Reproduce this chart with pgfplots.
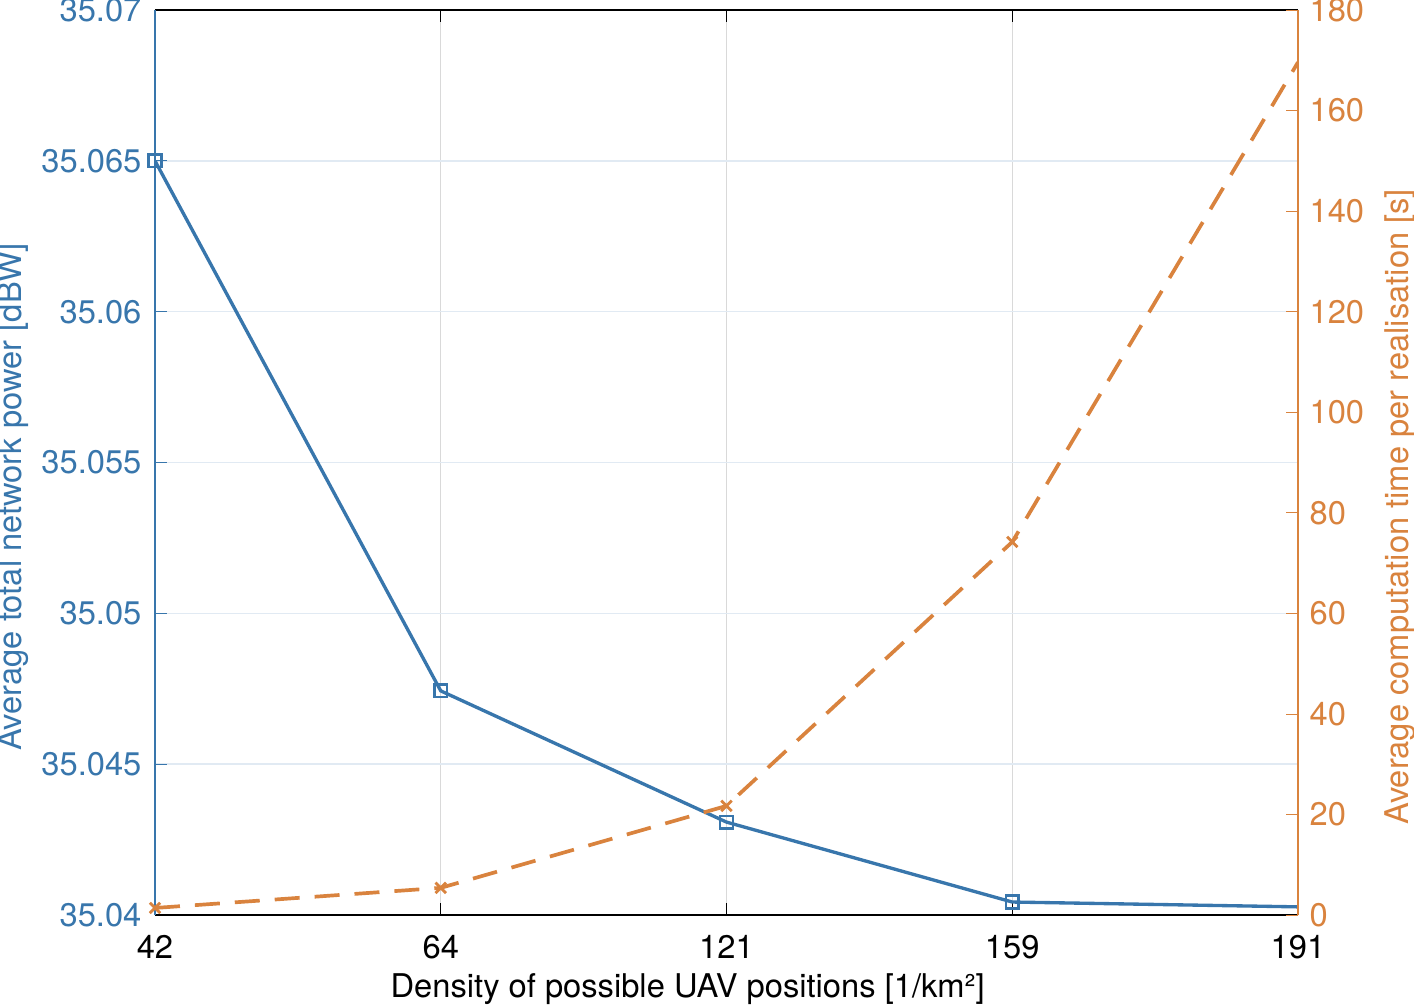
\documentclass[border=0pt]{standalone}
\usepackage{fontspec}
\setmainfont{TeX Gyre Heros}
\usepackage{pgfplots}
\pgfplotsset{compat=1.18}
\definecolor{cblue}{RGB}{56,118,172}
\definecolor{corange}{RGB}{217,131,62}
\begin{document}
\fontsize{9.3pt}{11pt}\selectfont
\begin{tikzpicture}
\begin{axis}[
  scale only axis, width=114.3mm, height=90.5mm,
  xmin=0, xmax=4, ymin=35.04, ymax=35.07,
  xtick={0,1,2,3,4}, xticklabels={42,64,121,159,191},
  ytick={35.04,35.045,35.05,35.055,35.06,35.065,35.07},
  scaled y ticks=false,
  yticklabel style={/pgf/number format/fixed, /pgf/number format/precision=3, /pgf/number format/assume math mode=true, text=cblue, xshift=-0.2mm},
  xticklabel style={/pgf/number format/assume math mode=true, yshift=-0.9mm},
  axis y line*=left,
  y axis line style={cblue, line width=0.4pt},
  x axis line style={black, line width=0.4pt},
  tick align=inside,
  major tick length=1.2mm,
  ytick style={cblue},
  xtick style={black},
  xmajorgrids, ymajorgrids,
  x grid style={black!15, line width=0.4pt},
  y grid style={cblue!15, line width=0.4pt},
  xlabel={Density of possible UAV positions [1/km²]},
  xlabel style={at={(axis description cs:0.466,-0.0906)}, anchor=base, inner sep=0pt},
  ylabel={Average total network power [dBW]},
  ylabel style={at={(axis description cs:-0.1164,0.462)}, anchor=base, rotate=0, inner sep=0pt, text=cblue},
]
\coordinate (bl) at (rel axis cs:0,0);
\coordinate (tr) at (rel axis cs:1,1);
\addplot[cblue, line width=0.95pt, mark=square, mark size=1.8pt, mark indices={1,2,3,4}, mark options={solid, line width=0.7pt}]
  coordinates {(0,35.065) (1,35.04743) (2,35.04308) (3,35.04043) (4,35.04027)};
\end{axis}
\begin{axis}[
  scale only axis, width=114.3mm, height=90.5mm,
  xmin=0, xmax=4, ymin=0, ymax=180,
  axis x line=none,
  axis y line*=right,
  y axis line style={corange, line width=0.4pt},
  ytick={0,20,...,180},
  yticklabel style={/pgf/number format/assume math mode=true, text=corange},
  tick align=inside,
  major tick length=1.2mm,
  ytick style={corange},
  ylabel={Average computation time per realisation [s]},
  ylabel style={at={(axis description cs:1.0963,0.451)}, anchor=base, rotate=0, inner sep=0pt, text=corange},
]
\addplot[corange, line width=1.05pt, dash pattern=on 2.5mm off 1.5mm, mark=x, mark size=2.1pt, mark indices={1,2,3,4}, mark options={solid, line width=0.8pt}]
  coordinates {(0,1.4) (1,5.4) (2,21.7) (3,74.2) (4,169.6)};
\end{axis}
\pgfresetboundingbox
\path ([shift={(-15.5mm,-8.9mm)}]bl) rectangle ([shift={(11.6mm,1mm)}]tr);
\end{tikzpicture}
\end{document}
